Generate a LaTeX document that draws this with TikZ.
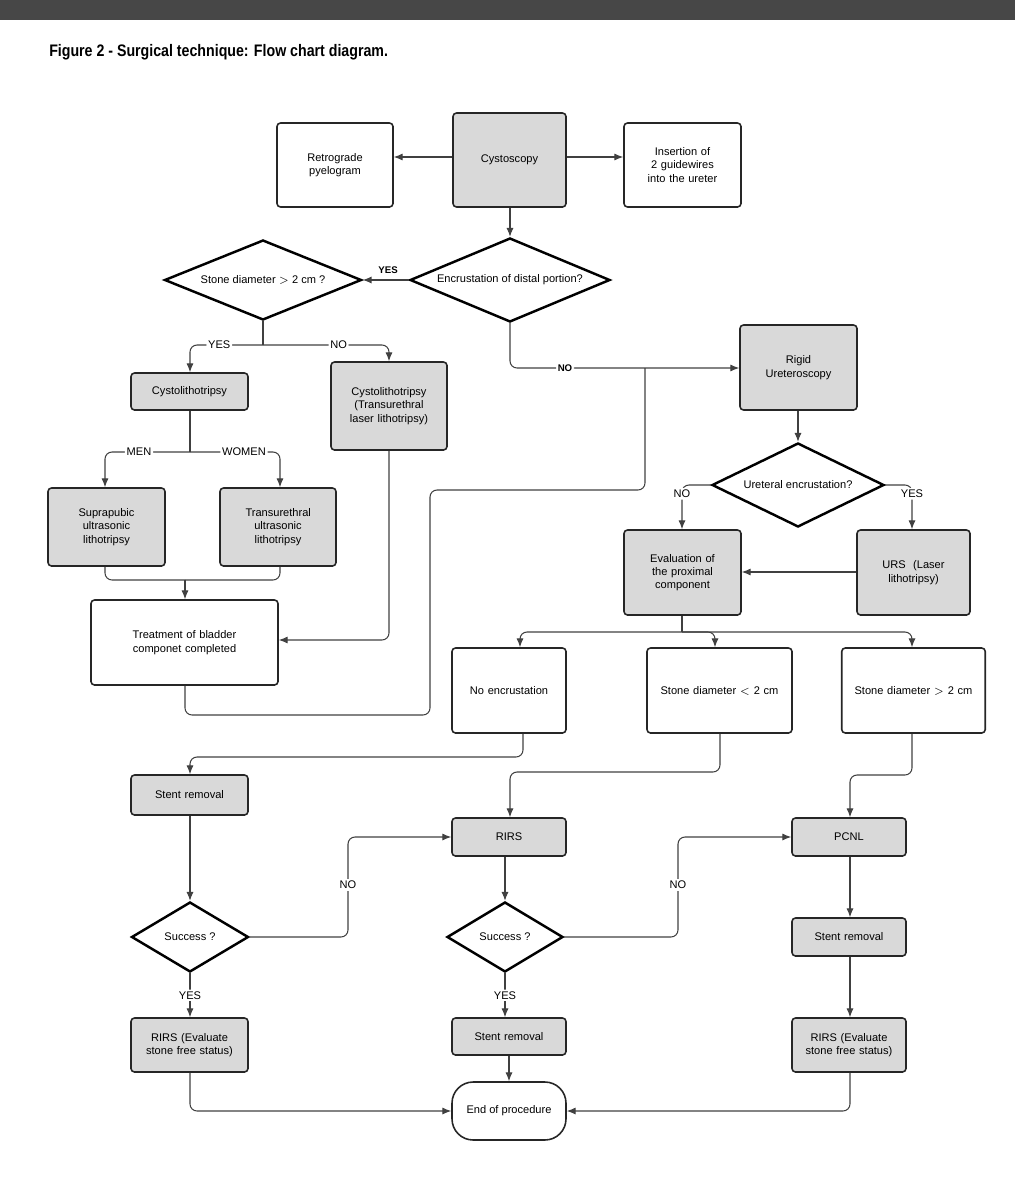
\documentclass[tikz,border=0pt]{standalone}
\usepackage{fontspec}
\setmainfont{Liberation Sans}
\usetikzlibrary{shapes.geometric,arrows.meta,calc}
\newcommand\bx[8]{%
 \pgfmathsetmacro\cx{(#3+#5)/2}\pgfmathsetmacro\cy{(#4+#6)/2}%
 \pgfmathsetmacro\ww{(#5-#3)*0.02}\pgfmathsetmacro\hh{(#6-#4)*0.02}%
 \node[#1,minimum width=\ww cm,minimum height=\hh cm,text width=#7cm] (#2) at (\cx,\cy) {#8};}
\newcommand\dm[6]{%
 \node[dia,minimum width=#4*0.02cm,minimum height=#5*0.02cm] (#1) at (#2,#3) {};
 \node[font=\fontsize{6.3}{7.6}\selectfont] (#1t) at (#2,#3) {#6};}
\begin{document}
\hyphenpenalty=10000
\exhyphenpenalty=10000
\begin{tikzpicture}[x=0.02cm,y=-0.02cm,
 base/.style={draw=black!85,line width=0.9pt,rounded corners=2pt,align=center,font=\fontsize{6.3}{7.6}\selectfont,inner sep=1pt},
 wbox/.style={base,fill=white},
 gbox/.style={base,fill=black!15},
 dia/.style={diamond,draw=black,line width=1.4pt,fill=white,inner sep=0pt},
 ln/.style={draw=black!75,line width=0.6pt,rounded corners=4pt},
 ar/.style={ln,-{Latex[length=5pt,width=4pt]}},
 lb/.style={fill=white,inner sep=1pt,font=\fontsize{6.3}{7.6}\selectfont}]
\useasboundingbox (0,0) rectangle (1015,1200);
\fill[black!72] (0,0) rectangle (1015,20);
\node[anchor=west,font=\bfseries\fontsize{9.5}{11}\selectfont,xscale=0.85] (title) at (44,52) {Figure 2 - Surgical technique: Flow chart diagram.};
\bx{wbox}{retro}{277}{123}{393}{207}{1.9}{Retrograde\\pyelogram\\[12pt]}
\bx{gbox}{cysto}{453}{113}{566}{207}{1.9}{Cystoscopy\\[32pt]}
\bx{wbox}{ins}{624}{123}{741}{207}{1.95}{Insertion of 2 guidewires into the ureter\\[6pt]}
\dm{distal}{510}{280}{200}{84}{Encrustation of distal portion?}
\dm{sd}{263}{280}{197}{80}{Stone diameter $>$ 2 cm ?}
\bx{gbox}{cl}{131}{373}{248}{410}{2}{Cystolithotripsy}
\bx{gbox}{cll}{331}{362}{447}{450}{1.6}{Cystolithotripsy (Transurethral laser lithotripsy)\\[18pt]}
\bx{gbox}{sup}{48}{488}{165}{566}{1.3}{Suprapubic ultrasonic lithotripsy\\[10pt]}
\bx{gbox}{tu}{220}{488}{336}{566}{1.3}{Transurethral ultrasonic lithotripsy\\[10pt]}
\bx{wbox}{treat}{91}{600}{278}{685}{3.4}{Treatment of bladder componet completed}
\bx{gbox}{rigid}{740}{325}{857}{410}{2}{Rigid\\Ureteroscopy\\[14pt]}
\dm{ue}{798}{485}{172}{84}{Ureteral encrustation?}
\bx{gbox}{eval}{624}{530}{741}{615}{1.9}{Evaluation of the proximal component\\[8pt]}
\bx{gbox}{urs}{857}{530}{970}{615}{1.5}{URS \ (Laser lithotripsy)\\[8pt]}
\bx{wbox}{noenc}{452}{648}{566}{733}{2}{No encrustation}
\bx{wbox}{slt}{647}{648}{792}{733}{2.8}{Stone diameter $<$ 2 cm}
\bx{wbox}{sgt}{842}{648}{985}{733}{2.8}{Stone diameter $>$ 2 cm}
\bx{gbox}{st1}{131}{775}{248}{815}{2}{Stent removal}
\bx{gbox}{rirs}{452}{818}{566}{856}{2}{RIRS\\[12pt]}
\bx{gbox}{pcnl}{792}{818}{906}{856}{2}{PCNL\\[12pt]}
\dm{s1}{190}{937}{117}{70}{Success ?}
\dm{s2}{505}{937}{116}{70}{Success ?}
\bx{gbox}{st3}{792}{918}{906}{956}{2}{Stent removal}
\bx{gbox}{re1}{131}{1018}{248}{1072}{1.9}{RIRS (Evaluate stone free status)}
\bx{gbox}{st2}{452}{1018}{566}{1055}{2}{Stent removal}
\bx{gbox}{re3}{792}{1018}{906}{1072}{1.9}{RIRS (Evaluate stone free status)}
\node[draw=black!85,line width=0.9pt,rounded corners=12pt,fill=white,minimum width=2.28cm,minimum height=1.16cm,font=\fontsize{6.3}{7.6}\selectfont] (end) at (509,1111) {End of procedure};
% edges
\draw[ar] (cysto.west|-0,157) -- (retro.east|-0,157);
\draw[ar] (cysto.east|-0,157) -- (ins.west|-0,157);
\draw[ar] (cysto.south-|510,0) -- (distal.north);
\draw[ar] (distal.west) -- node[above,font=\bfseries\fontsize{5.5}{6}\selectfont,pos=0.45]{YES} (sd.east);
\draw[ar] (distal.south) |- node[lb,pos=0.62,font=\bfseries\fontsize{5.5}{6}\selectfont]{NO} (rigid.west|-0,368);
\draw[ln] (sd.south) -- (263,345);
\draw[ar] (263,345) -| node[lb,pos=0.3]{YES} (cl.north-|190,0);
\draw[ar] (263,345) -| node[lb,pos=0.3]{NO} (cll.north-|389,0);
\draw[ln] (cl.south-|190,0) -- (190,452);
\draw[ar] (190,452) -| node[lb,pos=0.3]{MEN} (sup.north-|105,0);
\draw[ar] (190,452) -| node[lb,pos=0.3]{WOMEN} (tu.north-|280,0);
\draw[ln] (sup.south-|105,0) |- (185,580);
\draw[ln] (tu.south-|280,0) |- (185,580);
\draw[ar] (185,580) -- (treat.north-|185,0);
\draw[ar] (cll.south-|389,0) |- (treat.east|-0,640);
\draw[ln] (treat.south-|185,0) |- (430,715) -- (430,490) -- (645,490) -- (645,368);
\draw[ar] (rigid.south-|798,0) -- (ue.north);
\draw[ar] (ue.west) -| node[lb,pos=0.6]{NO} (eval.north-|682,0);
\draw[ar] (ue.east) -| node[lb,pos=0.6]{YES} (urs.north-|912,0);
\draw[ar] (urs.west|-0,572) -- (eval.east|-0,572);
\draw[ln] (eval.south-|682,0) -- (682,632);
\draw[ar] (682,632) -| (noenc.north-|520,0);
\draw[ar] (682,632) -| (slt.north-|715,0);
\draw[ar] (682,632) -| (sgt.north-|912,0);
\draw[ar] (noenc.south-|523,0) |- (190,757) -- (st1.north-|190,0);
\draw[ar] (slt.south-|720,0) |- (510,772) -- (rirs.north-|510,0);
\draw[ar] (sgt.south-|912,0) |- (850,775) -- (pcnl.north-|850,0);
\draw[ar] (st1.south-|190,0) -- (s1.north);
\draw[ar] (s1.east) -| (348,837) -- (rirs.west|-0,837);
\node[lb] (no1) at (348,885) {NO};
\draw[ar] (s1.south) -- node[lb,pos=0.5]{YES} (re1.north-|190,0);
\draw[ar] (rirs.south-|505,0) -- (s2.north);
\draw[ar] (s2.east) -| (678,837) -- (pcnl.west|-0,837);
\node[lb] (no2) at (678,885) {NO};
\draw[ar] (s2.south) -- node[lb,pos=0.5]{YES} (st2.north-|505,0);
\draw[ar] (pcnl.south-|850,0) -- (st3.north-|850,0);
\draw[ar] (st3.south-|850,0) -- (re3.north-|850,0);
\draw[ar] (re1.south-|190,0) |- (end.west);
\draw[ar] (re3.south-|850,0) |- (end.east);
\draw[ar] (st2.south-|509,0) -- (end.north);
\end{tikzpicture}
\end{document}
